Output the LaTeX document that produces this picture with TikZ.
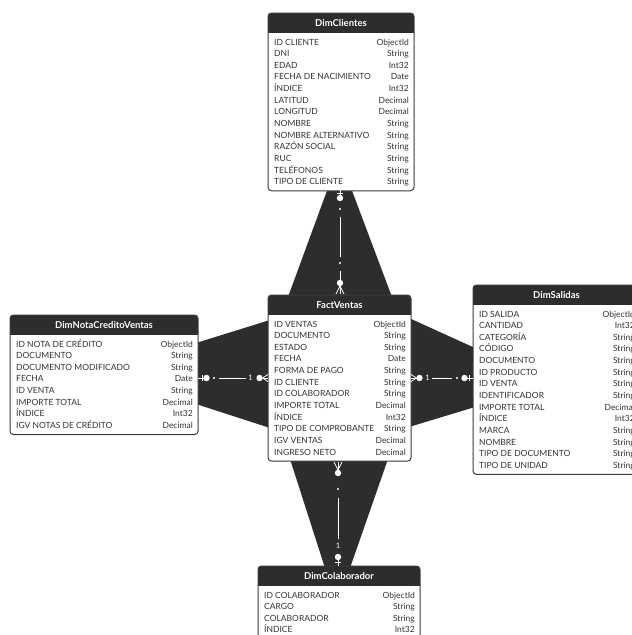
\documentclass[tikz,border=0pt]{standalone}
\usepackage{fontspec}
\setmainfont{Lato}
\usetikzlibrary{calc}
\definecolor{dark}{HTML}{2D2D2D}
\definecolor{txt}{HTML}{333333}
\definecolor{brd}{HTML}{3A3A3A}
\tikzset{
  rowname/.style={anchor=base west, inner sep=0pt, text=txt, font=\fontsize{8.5}{10}\selectfont},
  rowtype/.style={anchor=base east, inner sep=0pt, text=txt, font=\fontsize{8.5}{10}\selectfont},
  ttitle/.style={anchor=base, inner sep=0pt, text=white, font=\bfseries\fontsize{9.5}{11}\selectfont},
  band/.style={fill=dark},
  wline/.style={draw=white, line width=0.8pt},
  wdot/.style={fill=white},
  onelabel/.style={inner sep=0pt, text=white, font=\fontsize{7.5}{8}\selectfont},
}
% #1 name, #2 left, #3 right, #4 top, #5 rows count, #6 title, #7 rows
\newcommand{\ertable}[7]{%
  \pgfmathsetmacro{\erB}{#4+29+(#5-1)*11.65+9}%
  \pgfmathsetmacro{\erH}{#4+20}%
  \pgfmathsetmacro{\erC}{(#2+#3)/2}%
  \fill[white, rounded corners=3.5pt] (#2,#4) rectangle (#3,\erB);
  \begin{scope}
    \clip[rounded corners=3.5pt] (#2,#4) rectangle (#3,\erB);
    \fill[dark] (#2,#4) rectangle (#3,\erH);
  \end{scope}
  \draw[brd, line width=1pt, rounded corners=3.5pt] (#2,#4) rectangle (#3,\erB);
  \node[ttitle] (#1-title) at (\erC,{#4+13.5}) {#6};
  \foreach \n/\t [count=\i from 0] in {#7} {
    \node[rowname] (#1-n\i) at ({#2+6},{#4+32+\i*11.65}) {\n};
    \node[rowtype] (#1-t\i) at ({#3-5},{#4+32+\i*11.65}) {\t};
  }
}
\begin{document}
\begin{tikzpicture}[x=1pt,y=-1pt]
\useasboundingbox (0,0) rectangle (632,635);
\clip (0,0) rectangle (632,635);
\fill[white] (0,0) rectangle (632,635);

% dark bands
\fill[band] (328,188) -- (351,188) -- (392,297) -- (288,297) -- cycle;
\fill[band] (290,459) -- (388,459) -- (350,568) -- (325,568) -- cycle;
\fill[band] (196,343) -- (270,320) -- (270,428) -- (196,404) -- cycle;
\fill[band] (409,318) -- (475,348) -- (475,407) -- (409,427) -- cycle;

\ertable{cli}{268}{414}{13}{13}{DimClientes}{ID CLIENTE/ObjectId, DNI/String, EDAD/Int32, FECHA DE NACIMIENTO/Date, ÍNDICE/Int32, LATITUD/Decimal, LONGITUD/Decimal, NOMBRE/String, NOMBRE ALTERNATIVO/String, RAZÓN SOCIAL/String, RUC/String, TELÉFONOS/String, TIPO DE CLIENTE/String}

\ertable{fac}{268}{411}{295}{12}{FactVentas}{ID VENTAS/ObjectId, DOCUMENTO/String, ESTADO/String, FECHA/Date, FORMA DE PAGO/String, ID CLIENTE/String, ID COLABORADOR/String, IMPORTE TOTAL/Decimal, ÍNDICE/Int32, TIPO DE COMPROBANTE/String, IGV VENTAS/Decimal, INGRESO NETO/Decimal}

\ertable{ncv}{10}{198}{315}{8}{DimNotaCreditoVentas}{ID NOTA DE CRÉDITO/ObjectId, DOCUMENTO/String, DOCUMENTO MODIFICADO/String, FECHA/Date, ID VENTA/String, IMPORTE TOTAL/Decimal, ÍNDICE/Int32, IGV NOTAS DE CRÉDITO/Decimal}

\ertable{sal}{473}{640}{285}{14}{DimSalidas}{ID SALIDA/ObjectId, CANTIDAD/Int32, CATEGORÍA/String, CÓDIGO/String, DOCUMENTO/String, ID PRODUCTO/String, ID VENTA/String, IDENTIFICADOR/String, IMPORTE TOTAL/Decimal, ÍNDICE/Int32, MARCA/String, NOMBRE/String, TIPO DE DOCUMENTO/String, TIPO DE UNIDAD/String}

\ertable{col}{258}{420}{566}{5}{DimColaborador}{ID COLABORADOR/ObjectId, CARGO/String, COLABORADOR/String, ÍNDICE/Int32}

% ---- connector: DimClientes -> FactVentas (vertical, x=340)
\coordinate (t0) at (340,189);
\coordinate (t1) at (340,198);
\coordinate (t2) at (340,209);
\coordinate (t3) at (340,217);
\coordinate (t4) at (340,257);
\coordinate (t5) at (340,263);
\coordinate (t6) at (340,271);
\coordinate (t7) at (340,283);
\coordinate (t8) at (340,295);
\draw[wline] (t0) -- (t1);
\draw[wline] ($(t0)+(-3,4)$) -- ($(t0)+(3,4)$);
\fill[wdot] (t1) circle (3.2);
\fill[wdot] (t2) circle (1.2);
\draw[wline] (t3) -- (t4);
\fill[wdot] (t5) circle (1.2);
\draw[wline] (t6) -- (t7);
\fill[wdot] (t7) circle (3.2);
\draw[wline] ($(t7)+(0,3)$) -- ($(t8)+(-4,-1)$);
\draw[wline] ($(t7)+(0,3)$) -- ($(t8)+(4,-1)$);
\draw[wline] ($(t7)+(0,3)$) -- ($(t8)+(0,-1)$);

% ---- connector: DimNotaCreditoVentas -> FactVentas (horizontal, y=378)
\coordinate (l0) at (198,378);
\coordinate (l1) at (206.5,378);
\coordinate (l2) at (214,378);
\coordinate (l3) at (219,378);
\coordinate (l4) at (246,378);
\coordinate (l5) at (259.5,378);
\coordinate (l6) at (268,378);
\draw[wline] (l0) -- (l1);
\draw[wline] ($(l0)+(4,-3)$) -- ($(l0)+(4,3)$);
\fill[wdot] (l1) circle (3.2);
\fill[wdot] (l2) circle (1.2);
\draw[wline] (l3) -- (l4);
\node[onelabel] (l1lbl) at (250.5,378) {1};
\fill[wdot] (l5) circle (3.2);
\draw[wline] ($(l5)+(3,0)$) -- ($(l6)+(0,-3.5)$);
\draw[wline] ($(l5)+(3,0)$) -- ($(l6)+(0,3.5)$);
\draw[wline] ($(l5)+(3,0)$) -- (l6);

% ---- connector: FactVentas -> DimSalidas (horizontal, y=378)
\coordinate (r0) at (411,378);
\coordinate (r1) at (419.5,378);
\coordinate (r2) at (432,378);
\coordinate (r3) at (452,378);
\coordinate (r4) at (457,378);
\coordinate (r5) at (464.5,378);
\coordinate (r6) at (473,378);
\draw[wline] ($(r1)+(-3,0)$) -- ($(r0)+(0,-3.5)$);
\draw[wline] ($(r1)+(-3,0)$) -- ($(r0)+(0,3.5)$);
\draw[wline] ($(r1)+(-3,0)$) -- (r0);
\fill[wdot] (r1) circle (3.2);
\node[onelabel] (r1lbl) at (427.5,378) {1};
\draw[wline] (r2) -- (r3);
\fill[wdot] (r4) circle (1.2);
\fill[wdot] (r5) circle (3.2);
\draw[wline] (r5) -- (r6);
\draw[wline] ($(r6)+(-4,-3)$) -- ($(r6)+(-4,3)$);

% ---- connector: FactVentas -> DimColaborador (vertical, x=338)
\coordinate (b0) at (338,461);
\coordinate (b1) at (338,473);
\coordinate (b2) at (338,489);
\coordinate (b3) at (338,498);
\coordinate (b4) at (338,539);
\coordinate (b5) at (338,557);
\coordinate (b6) at (338,566);
\draw[wline] ($(b1)+(0,-3)$) -- ($(b0)+(-4,1)$);
\draw[wline] ($(b1)+(0,-3)$) -- ($(b0)+(4,1)$);
\draw[wline] ($(b1)+(0,-3)$) -- ($(b0)+(0,1)$);
\fill[wdot] (b1) circle (3.2);
\fill[wdot] (b2) circle (1.2);
\draw[wline] (b3) -- (b4);
\node[onelabel] (b1lbl) at (338,546) {1};
\fill[wdot] (b5) circle (3.2);
\draw[wline] (b5) -- (b6);
\draw[wline] ($(b6)+(-3,-4)$) -- ($(b6)+(3,-4)$);
\end{tikzpicture}
\end{document}
